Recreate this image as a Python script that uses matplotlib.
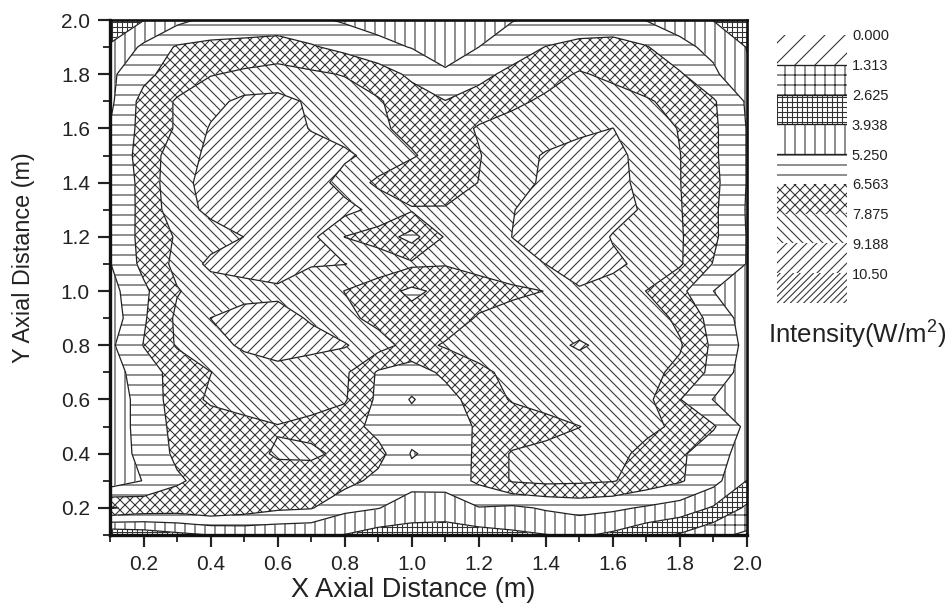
import matplotlib
matplotlib.use('Agg')
import matplotlib.pyplot as plt
import numpy as np

plt.rcParams['font.family'] = ['Liberation Sans', 'DejaVu Sans']
plt.rcParams['hatch.linewidth'] = 0.65
plt.rcParams['hatch.color'] = '#333333'

# data, rows from y=2.0 down to y=0.1
x_vals = [0.1, 0.2, 0.3, 0.4, 0.5, 0.6, 0.7, 0.8, 0.9, 1.0,
          1.1, 1.2, 1.3, 1.4, 1.5, 1.6, 1.7, 1.8, 1.9, 2.0]
y_vals = [2.0, 1.9, 1.8, 1.7, 1.6, 1.5, 1.4, 1.3, 1.2, 1.1,
          1.0, 0.9, 0.8, 0.7, 0.6, 0.5, 0.4, 0.3, 0.2, 0.1]
intensity = [
    [3.0, 3.9, 4.9, 5.6, 5.7, 5.7, 5.5, 5.1, 4.8, 4.6, 4.5, 4.8, 5.2, 5.5, 5.6, 5.5, 5.2, 4.7, 3.9, 3.0],
    [4.1, 5.5, 6.7, 6.9, 7.0, 7.2, 6.7, 6.2, 5.6, 5.2, 4.8, 5.25, 5.9, 6.6, 7.0, 7.2, 6.65, 5.6, 4.9, 3.9],
    [5.0, 6.2, 7.2, 7.8, 8.1, 8.3, 8.1, 7.8, 7.2, 6.3, 5.4, 6.2, 6.9, 7.4, 8.0, 7.6, 7.2, 6.7, 5.5, 4.1],
    [5.0, 7.0, 8.0, 8.8, 9.5, 9.6, 9.0, 8.6, 8.0, 7.2, 6.6, 7.1, 7.6, 8.1, 8.5, 8.4, 8.0, 7.5, 6.7, 5.1],
    [5.3, 7.0, 8.0, 9.3, 9.8, 10.0, 9.1, 8.7, 8.1, 7.5, 7.2, 8.0, 8.4, 8.6, 8.9, 9.2, 8.6, 7.8, 6.8, 5.2],
    [5.3, 7.2, 8.5, 9.5, 9.9, 10.1, 9.9, 9.4, 8.8, 8.0, 7.3, 7.8, 8.7, 9.3, 9.7, 9.5, 8.8, 7.9, 6.8, 5.2],
    [5.3, 7.0, 8.8, 9.6, 10.0, 10.1, 9.8, 8.7, 7.6, 7.0, 7.1, 7.9, 8.7, 9.4, 9.8, 9.6, 8.8, 7.9, 6.9, 5.2],
    [5.25, 7.0, 8.6, 9.5, 9.9, 10.0, 9.9, 9.6, 8.8, 8.0, 8.0, 8.4, 9.15, 9.6, 9.9, 9.7, 9.0, 7.95, 6.8, 5.15],
    [5.3, 7.0, 8.0, 8.6, 9.2, 9.7, 9.5, 7.85, 7.3, 6.1, 8.0, 8.6, 9.2, 9.8, 10.0, 9.1, 8.6, 8.0, 6.8, 5.2],
    [5.2, 6.9, 8.2, 9.5, 9.6, 9.7, 9.25, 9.22, 8.7, 8.1, 7.95, 8.3, 8.8, 9.2, 9.6, 9.4, 8.9, 8.0, 6.5, 5.2],
    [4.8, 6.3, 7.8, 8.4, 8.8, 9.0, 8.7, 7.85, 7.1, 6.3, 6.9, 7.3, 7.6, 7.9, 9.1, 8.8, 7.85, 6.9, 5.25, 4.6],
    [4.5, 6.4, 8.1, 9.2, 9.6, 9.5, 9.1, 8.2, 7.5, 7.0, 7.2, 8.0, 8.4, 8.6, 8.7, 8.8, 8.5, 7.6, 6.1, 4.7],
    [5.0, 6.6, 8.0, 8.7, 9.4, 9.6, 9.5, 9.3, 8.4, 7.4, 8.0, 8.4, 8.7, 8.9, 9.3, 8.9, 8.5, 8.0, 6.3, 4.9],
    [4.6, 6.0, 7.0, 7.85, 8.5, 8.9, 8.6, 8.1, 6.4, 6.0, 6.8, 7.6, 8.2, 8.5, 8.7, 8.5, 8.2, 7.6, 6.2, 4.6],
    [4.4, 5.8, 7.1, 8.1, 8.4, 8.8, 8.4, 8.0, 6.3, 5.15, 6.1, 7.1, 8.0, 8.4, 8.8, 8.6, 8.2, 6.6, 5.2, 4.9],
    [4.4, 5.8, 6.9, 7.1, 7.5, 7.8, 7.5, 7.2, 6.1, 5.8, 6.0, 6.7, 7.0, 7.4, 7.85, 8.4, 8.2, 7.6, 6.7, 4.9],
    [4.4, 5.7, 6.8, 7.2, 7.5, 8.0, 8.1, 7.6, 7.0, 5.15, 5.7, 6.8, 8.0, 8.3, 8.5, 8.3, 7.5, 6.8, 5.7, 4.8],
    [4.4, 5.3, 6.4, 7.0, 7.3, 7.4, 7.2, 7.0, 6.2, 5.7, 5.8, 6.8, 8.0, 8.2, 8.1, 7.95, 7.3, 6.7, 5.7, 3.9],
    [8.0, 7.5, 7.3, 7.7, 7.3, 6.8, 6.65, 5.6, 5.3, 4.6, 4.5, 5.2, 5.0, 5.4, 5.7, 5.5, 5.1, 4.7, 3.8, 2.4],
    [2.8, 3.1, 3.6, 3.95, 4.2, 4.2, 4.1, 3.9, 3.4, 3.4, 3.4, 3.4, 3.7, 3.9, 4.1, 3.7, 3.0, 2.5, 1.6, 1.1],
]

levels = [0.0, 1.313, 2.625, 3.938, 5.25, 6.563, 7.875, 9.188, 10.5, 11.8]
level_labels = ['0.000', '1.313', '2.625', '3.938', '5.250', '6.563', '7.875', '9.188', '10.50']
hatches = ['//', '++', '++++', '||', '--', 'xxxx', '\\' * 4, '/' * 4, '/' * 6]
ticks = [0.2, 0.4, 0.6, 0.8, 1.0, 1.2, 1.4, 1.6, 1.8, 2.0]

W, H = 949, 606
DPI = 120
fig = plt.figure(figsize=(W / DPI, H / DPI), dpi=DPI, facecolor='white')

# main plot
ax = fig.add_axes([110 / W, 1 - 535 / H, (747 - 110) / W, (535 - 20) / H])
X, Y = np.meshgrid(x_vals, y_vals)
Z = np.array(intensity)
ax.contourf(X, Y, Z, levels=levels, colors='white', hatches=hatches)
ax.contour(X, Y, Z, levels=levels[1:9], colors='#222222', linewidths=0.75)

ax.set_xlim(0.1, 2.0)
ax.set_ylim(0.1, 2.0)
ax.set_xticks(ticks)
ax.set_yticks(ticks)
ax.set_xticks(x_vals, minor=True)
ax.set_yticks(y_vals, minor=True)
ax.tick_params(which='major', length=7, width=1.3, labelsize=12.5, pad=5, colors='#222222')
ax.tick_params(which='minor', length=4, width=1.1, colors='#222222')
for name, lw in [('left', 2.0), ('bottom', 2.0), ('top', 1.6), ('right', 1.6)]:
    ax.spines[name].set_linewidth(lw)
    ax.spines[name].set_color('#111111')

fig.text(413 / W, 1 - 590 / H, 'X Axial Distance (m)', ha='center', va='center',
         fontsize=16.3, color='#222222')
fig.text(24 / W, 1 - 258 / H, 'Y Axial Distance (m)', ha='center', va='center',
         rotation=90, fontsize=14, color='#222222')

# hatch key on the right
key = fig.add_axes([777 / W, 1 - 303 / H, (847 - 777) / W, (303 - 35) / H])
key.set_xlim(0, 1)
key.set_ylim(len(hatches), 0)
key.axis('off')
for i, h in enumerate(hatches):
    key.bar(0.5, 1, width=1, bottom=i, color='white', hatch=h, linewidth=0)
    if 0 < i < 5:
        key.axhline(i, color='#222222', lw=0.8)
    key.text(1.07, i + 0.05, level_labels[i], ha='left', va='center', fontsize=8.8,
             color='#222222', clip_on=False)

fig.text(768 / W, 1 - 335 / H, 'Intensity(W/m$\\mathregular{^2}$)', ha='left', va='center',
         fontsize=15.5, color='#222222')

fig.savefig('out.png', dpi=DPI)
